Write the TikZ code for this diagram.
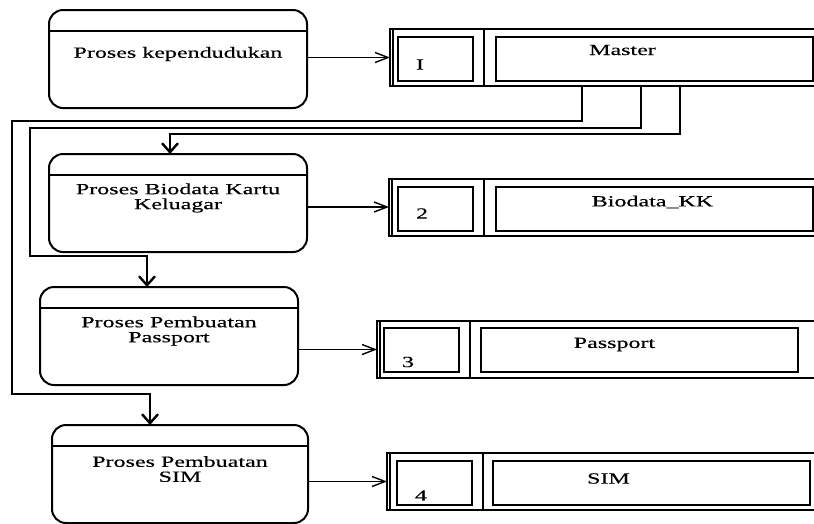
\documentclass[tikz,border=0pt]{standalone}
\usepackage{fontspec}
\setmainfont{Liberation Serif}[FakeStretch=1.55, FakeBold=0.4]
\usetikzlibrary{arrows.meta,positioning}

\begin{document}
\begin{tikzpicture}[x=1pt,y=-1pt,>=stealth,font=\fontsize{15.5}{15}\selectfont]

    % Define node styles
    \tikzstyle{proc_block} = [draw, line width=2pt, outer sep=0pt, rounded corners=14pt, minimum width=258pt, minimum height=98pt]
    \tikzstyle{proc_text} = [align=center, inner sep=0pt]
    \tikzstyle{store_block} = [draw, line width=2pt, outer sep=0pt, minimum width=445pt, minimum height=57pt]
    \tikzstyle{id_block} = [draw, line width=2pt, outer sep=0pt, minimum width=75pt, minimum height=44pt]
    \tikzstyle{name_block} = [draw, line width=2pt, outer sep=0pt, minimum width=317pt, minimum height=44pt]
    \tikzstyle{link} = [line width=2.4pt, -{Straight Barb[length=9pt,width=16pt]}]
    \tikzstyle{flow} = [line width=1.4pt, -{Straight Barb[length=13pt,width=10pt]}]

    \useasboundingbox (0,0) rectangle (814,523);

    % Draw nodes
    \node [proc_block] (kependudukan) at (178,59) {};
    \node [proc_block, below=46pt of kependudukan] (biodata) {};
    \node [proc_block, below=35pt of biodata, xshift=-9pt] (passport) {};
    \node [proc_block, below=40pt of passport, xshift=11pt, minimum width=256pt] (sim) {};

    \node [proc_text] (kependudukan_text) at ([yshift=-44pt]kependudukan.north) {Proses kependudukan};
    \node [proc_text] (biodata_text) at ([yshift=-44pt]biodata.north) {Proses Biodata Kartu\\ Keluagar};
    \node [proc_text] (passport_text) at ([yshift=-44pt]passport.north) {Proses Pembuatan\\ Passport};
    \node [proc_text] (sim_text) at ([yshift=-44pt]sim.north) {Proses Pembuatan\\ SIM};

    \node [store_block, right=83pt of kependudukan, yshift=1.5pt] (master_store) {};
    \node [id_block, below right=8pt and 8pt of master_store.north west] (master_id) {};
    \node [name_block, right=23pt of master_id] (master_name) {};
    \node (master_num) at ([xshift=-15.5pt, yshift=-5.5pt]master_id.center) {I};
    \node (master_label) at ([xshift=-32pt, yshift=9pt]master_name.center) {Master};

    \node [store_block, right=82pt of biodata, yshift=-4pt] (biodata_store) {};
    \node [id_block, below right=8pt and 9pt of biodata_store.north west] (biodata_id) {};
    \node [name_block, right=23pt of biodata_id] (biodata_name) {};
    \node (biodata_num) at ([xshift=-13.5pt, yshift=-5pt]biodata_id.center) {2};
    \node (biodata_label) at ([xshift=-2pt, yshift=6.5pt]biodata_name.center) {Biodata\_KK};

    \node [store_block, right=79pt of passport, yshift=-13.5pt] (passport_store) {};
    \node [id_block, below right=7pt and 7pt of passport_store.north west] (passport_id) {};
    \node [name_block, right=22pt of passport_id] (passport_name) {};
    \node (passport_num) at ([xshift=-13.5pt, yshift=-12pt]passport_id.center) {3};
    \node (passport_label) at ([xshift=-25pt, yshift=5.5pt]passport_name.center) {Passport};

    \node [store_block, right=79pt of sim, yshift=-7.5pt] (sim_store) {};
    \node [id_block, below right=8pt and 10pt of sim_store.north west] (sim_id) {};
    \node [name_block, right=21pt of sim_id] (sim_name) {};
    \node (sim_num) at ([xshift=-13.5pt, yshift=-12.5pt]sim_id.center) {4};
    \node (sim_label) at ([xshift=-43pt, yshift=4.5pt]sim_name.center) {SIM};

    % Dividers
    \draw [line width=2pt] (kependudukan.north west) ++(0,21) -- ++(258,0);
    \draw [line width=2pt] (biodata.north west) ++(0,21) -- ++(258,0);
    \draw [line width=2pt] (passport.north west) ++(0,21) -- ++(258,0);
    \draw [line width=2pt] (sim.north west) ++(0,21) -- ++(256,0);

    \draw [line width=2pt] (master_id.east |- master_store.north) ++(11,0) -- ++(0,57);
    \draw [line width=2pt] (biodata_id.east |- biodata_store.north) ++(11,0) -- ++(0,57);
    \draw [line width=2pt] (passport_id.east |- passport_store.north) ++(11,0) -- ++(0,57);
    \draw [line width=2pt] (sim_id.east |- sim_store.north) ++(11,0) -- ++(0,57);

    \draw [line width=1.2pt] (master_store.north west) ++(3,0) -- ++(0,57);
    \draw [line width=1.2pt] (biodata_store.north west) ++(3,0) -- ++(0,57);
    \draw [line width=1.2pt] (passport_store.north west) ++(3,0) -- ++(0,57);
    \draw [line width=1.2pt] (sim_store.north west) ++(3,0) -- ++(0,57);

    % Draw arrows
    \draw [flow] (kependudukan.east |- master_store.west) -- (master_store.west);
    \draw [flow] (biodata.east |- biodata_store.west) -- (biodata_store.west);
    \draw [flow] (passport.east |- passport_store.west) -- (passport_store.west);
    \draw [flow] (sim.east |- sim_store.west) -- (sim_store.west);

    \draw [link] (master_store.south west) ++(290,0) |- (170,134) -- ([xshift=-8pt]biodata.north);
    \draw [link] (master_store.south west) ++(251,0) |- (30,128) -- (30,256) -| ([xshift=-22pt]passport.north);
    \draw [link] (master_store.south west) ++(192,0) |- (12,121) -- (12,394) -| ([xshift=-30pt]sim.north);

\end{tikzpicture}
\end{document}
